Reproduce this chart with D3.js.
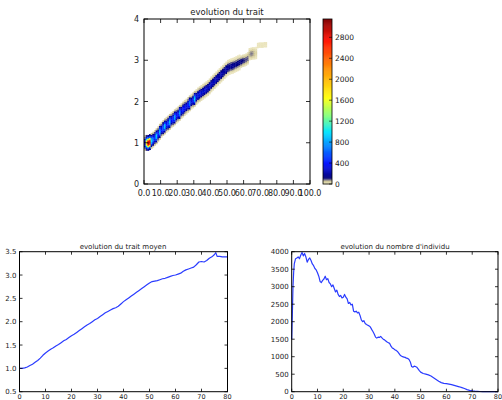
<!DOCTYPE html>
<html><head><meta charset="utf-8">
<script src="https://cdn.jsdelivr.net/npm/d3@7"></script>
<style>body{margin:0;background:#fff}svg{display:block}text{font-family:"DejaVu Sans",sans-serif;fill:#222}</style>
</head><body><svg id="c" width="502" height="400"></svg>
<script>
// ---------- data ----------
const heatTitle = "evolution du trait";
const heatXTicks = [0,10,20,30,40,50,60,70,80,90,100];
const heatXTickLabels = ["0.0","10.0","20.0","30.0","40.0","50.0","60.0","70.0","80.0","90.0","100.0"];
const heatYTicks = [0,1,2,3,4];
const cbarTicks = [0,400,800,1200,1600,2000,2400,2800];
const cbarMax = 3150;
// heatmap columns: time, trait centre, peak count
const heatTime   = [0,1,2,3,4,5,6,7,8,9,10,11,12,13,14,15,16,17,18,19,20,21,22,23,24,25,26,27,28,29,30,31,32,33,34,35,36,37,38,39,40,41,42,43,44,45,46,47,48,49,50,51,52,53,54,55,56,57,58,59,60,61,62,63,64,65,66,67,68,69,70,71,72,73];
const heatTrait  = [1.00,1.00,1.00,1.02,1.05,1.08,1.12,1.16,1.21,1.27,1.32,1.36,1.40,1.44,1.47,1.51,1.55,1.58,1.62,1.66,1.69,1.73,1.77,1.81,1.85,1.88,1.92,1.96,2.00,2.03,2.07,2.11,2.15,2.18,2.21,2.24,2.27,2.30,2.33,2.37,2.42,2.46,2.50,2.54,2.58,2.62,2.66,2.70,2.74,2.78,2.82,2.84,2.86,2.87,2.89,2.91,2.93,2.95,2.97,2.99,3.00,3.02,3.05,3.15,3.16,3.17,3.17,3.18,3.36,3.37,3.37,3.37,3.38,3.38];
const heatPeak   = [400,1800,3100,2900,1000,650,500,950,450,900,420,600,950,430,520,900,400,480,850,420,380,800,350,450,400,330,400,700,320,380,950,340,320,360,300,280,320,290,260,300,270,250,280,240,250,220,240,210,200,220,190,180,170,175,160,150,150,140,130,120,110,100,95,70,85,80,60,40,14,14,13,13,12,12];
// mean trait
const traitTime  = [0,1,2,3,4,5,6,7,8,9,10,11,12,13,14,15,16,17,18,19,20,21,22,23,24,25,26,27,28,29,30,31,32,33,34,35,36,37,38,39,40,41,42,43,44,45,46,47,48,49,50,51,52,53,54,55,56,57,58,59,60,61,62,63,64,65,66,67,68,69,70,71,72,73,74,75,75.5,76,77,78,79,80];
const traitMean  = [1.00,1.00,1.01,1.03,1.06,1.09,1.13,1.17,1.22,1.28,1.33,1.37,1.41,1.44,1.48,1.51,1.55,1.59,1.62,1.66,1.70,1.73,1.77,1.81,1.85,1.89,1.93,1.96,2.00,2.04,2.07,2.11,2.15,2.19,2.22,2.25,2.28,2.30,2.33,2.38,2.43,2.47,2.51,2.55,2.59,2.63,2.67,2.71,2.75,2.79,2.83,2.86,2.87,2.88,2.90,2.92,2.93,2.95,2.97,2.99,3.00,3.02,3.04,3.08,3.11,3.13,3.15,3.17,3.22,3.28,3.29,3.28,3.31,3.36,3.39,3.44,3.48,3.40,3.40,3.39,3.39,3.39];
// population size
const popTime = [0,0.25,0.5,0.75,1,1.5,2,2.5,3,3.5,4,4.5,5,5.5,6,6.5,7,7.5,8,8.5,9,9.5,10,10.5,11,11.5,12,12.5,13,13.5,14,14.5,15,15.5,16,16.5,17,17.5,18,18.5,19,19.5,20,20.5,21,21.5,22,22.5,23,23.5,24,24.5,25,25.5,26,26.5,27,27.5,28,28.5,29,29.5,30,30.5,31,31.5,32,32.5,33,33.5,34,34.5,35,35.5,36,36.5,37,37.5,38,38.5,39,39.5,40,40.5,41,41.5,42,42.5,43,43.5,44,44.5,45,45.5,46,46.5,47,47.5,48,48.5,49,49.5,50,51,52,53,54,55,56,57,58,59,60,61,62,63,64,65,66,67,68,69,70,71,72,73,74,75,76,77,78,79,80];
const popCount = [1500,2200,3000,3400,3650,3800,3820,3850,3800,3900,3980,3880,3950,3850,3700,3780,3820,3750,3650,3600,3520,3480,3400,3300,3150,3120,3180,3220,3300,3200,3230,3120,3080,3000,3050,2950,2850,2900,2780,2720,2750,2680,2700,2780,2700,2650,2520,2550,2480,2500,2300,2280,2300,2250,2270,2180,2050,2000,2030,1950,1920,1900,1880,1850,1780,1720,1650,1560,1530,1560,1550,1580,1540,1500,1480,1450,1420,1400,1380,1300,1250,1230,1200,1180,1150,1100,1050,1020,1000,990,980,960,950,920,850,720,700,730,720,700,650,600,560,520,500,480,450,400,350,300,260,240,230,215,200,180,160,140,115,90,60,40,25,15,10,5,3,0,0,0,0,0,0];
const trendTitle = "evolution du trait moyen";
const trendYTicks = [0.5,1.0,1.5,2.0,2.5,3.0,3.5];
const popTitle = "evolution du nombre d'individu";
const popYTicks = [0,500,1000,1500,2000,2500,3000,3500,4000];
const timeTicks = [0,10,20,30,40,50,60,70,80];

// ---------- drawing ----------
const svg = d3.select("#c");
svg.append("rect").attr("width",502).attr("height",400).attr("fill","#fff");

const cmap = d3.scaleLinear()
  .domain([0,60,120,400,1000,1300,1650,2200,2750,3150])
  .range(["#f1ecc8","#cfc692","#00007a","#0010ff","#00e5ff","#80ff80","#ffff10","#ff9000","#ff1000","#800000"])
  .clamp(true);

function frameTicks(g, x, y, xt, yt, len){
  const [x0,x1]=x.range(), [y0,y1]=y.range();
  xt.forEach(v=>{
    g.append("line").attr("x1",x(v)).attr("x2",x(v)).attr("y1",y0).attr("y2",y0-len).attr("stroke","#000").attr("stroke-width",0.8);
    g.append("line").attr("x1",x(v)).attr("x2",x(v)).attr("y1",y1).attr("y2",y1+len).attr("stroke","#000").attr("stroke-width",0.8);
  });
  yt.forEach(v=>{
    g.append("line").attr("y1",y(v)).attr("y2",y(v)).attr("x1",x0).attr("x2",x0+len).attr("stroke","#000").attr("stroke-width",0.8);
    g.append("line").attr("y1",y(v)).attr("y2",y(v)).attr("x1",x1).attr("x2",x1-len).attr("stroke","#000").attr("stroke-width",0.8);
  });
  g.append("rect").attr("x",x0).attr("y",y1).attr("width",x1-x0).attr("height",y0-y1)
    .attr("fill","none").attr("stroke","#000").attr("stroke-width",1);
}

// ---- top heatmap ----
{
  const x = d3.scaleLinear().domain([0,100]).range([144,310]);
  const y = d3.scaleLinear().domain([0,4]).range([184,19]);
  const defs = svg.append("defs");
  defs.append("filter").attr("id","blur").attr("x","-10%").attr("y","-10%").attr("width","120%").attr("height","120%")
    .append("feGaussianBlur").attr("stdDeviation",0.7);
  defs.append("clipPath").attr("id","hclip").append("rect").attr("x",144).attr("y",19).attr("width",166).attr("height",165);
  const g = svg.append("g").attr("clip-path","url(#hclip)").append("g").attr("filter","url(#blur)");
  const prof = [0.06,0.2,0.55,0.9,1,0.9,0.55,0.2,0.06];
  const mid = 4;
  const bin = 0.042;
  heatTime.forEach((t,i)=>{
    prof.forEach((w,k)=>{
      const v = heatPeak[i]*w;
      if (v < 8) return;
      const tr = heatTrait[i] + (k-mid)*bin;
      g.append("rect").attr("x",x(t)).attr("width",x(t+1)-x(t)+0.3)
        .attr("y",y(tr+bin/2)).attr("height",y(tr-bin/2)-y(tr+bin/2)+0.3)
        .attr("fill",cmap(v));
    });
  });
  const a = svg.append("g");
  frameTicks(a,x,y,heatXTicks,heatYTicks,4);
  heatXTicks.forEach((v,i)=>a.append("text").attr("x",x(v)).attr("y",196).attr("text-anchor","middle").attr("font-size",8).text(heatXTickLabels[i]));
  heatYTicks.forEach(v=>a.append("text").attr("x",139).attr("y",y(v)+3).attr("text-anchor","end").attr("font-size",8).text(v));
  a.append("text").attr("x",227).attr("y",15).attr("text-anchor","middle").attr("font-size",8.5).text(heatTitle);

  // colorbar
  const cy = d3.scaleLinear().domain([0,cbarMax]).range([184,19]);
  const cg = svg.append("g");
  d3.range(0,cbarMax,10).forEach(v=>{
    cg.append("rect").attr("x",323).attr("width",9).attr("y",cy(v+10)).attr("height",cy(v)-cy(v+10)+0.4).attr("fill",cmap(v+5));
  });
  cg.append("rect").attr("x",323).attr("y",19).attr("width",9).attr("height",165).attr("fill","none").attr("stroke","#000").attr("stroke-width",0.8);
  cbarTicks.forEach(v=>{
    cg.append("line").attr("x1",332).attr("x2",329).attr("y1",cy(v)).attr("y2",cy(v)).attr("stroke","#000").attr("stroke-width",0.6);
    cg.append("text").attr("x",335).attr("y",cy(v)+3).attr("font-size",7.5).text(v);
  });
}

function linePanel(x, y, xs, ys, xt, yt, title, cx, yfmt){
  const g = svg.append("g");
  g.append("path").datum(xs.map((v,i)=>[v,ys[i]]))
    .attr("d", d3.line().x(d=>x(d[0])).y(d=>y(d[1])))
    .attr("fill","none").attr("stroke","#2a3cff").attr("stroke-width",1.2).attr("stroke-linejoin","round");
  frameTicks(g,x,y,xt,yt,3);
  xt.forEach(v=>g.append("text").attr("x",x(v)).attr("y",398.5).attr("text-anchor","middle").attr("font-size",6.5).text(v));
  yt.forEach(v=>g.append("text").attr("x",x.range()[0]-3).attr("y",y(v)+2.5).attr("text-anchor","end").attr("font-size",7).text(yfmt(v)));
  g.append("text").attr("x",cx).attr("y",249).attr("text-anchor","middle").attr("font-size",7).text(title);
}

linePanel(d3.scaleLinear().domain([0,80]).range([19.5,227.5]),
          d3.scaleLinear().domain([0.5,3.5]).range([391.7,251.7]),
          traitTime, traitMean, timeTicks, trendYTicks, trendTitle, 123, d3.format(".1f"));
linePanel(d3.scaleLinear().domain([0,80]).range([291.7,498]),
          d3.scaleLinear().domain([0,4000]).range([391.7,251.7]),
          popTime, popCount, timeTicks, popYTicks, popTitle, 395, d3.format("d"));
</script></body></html>
